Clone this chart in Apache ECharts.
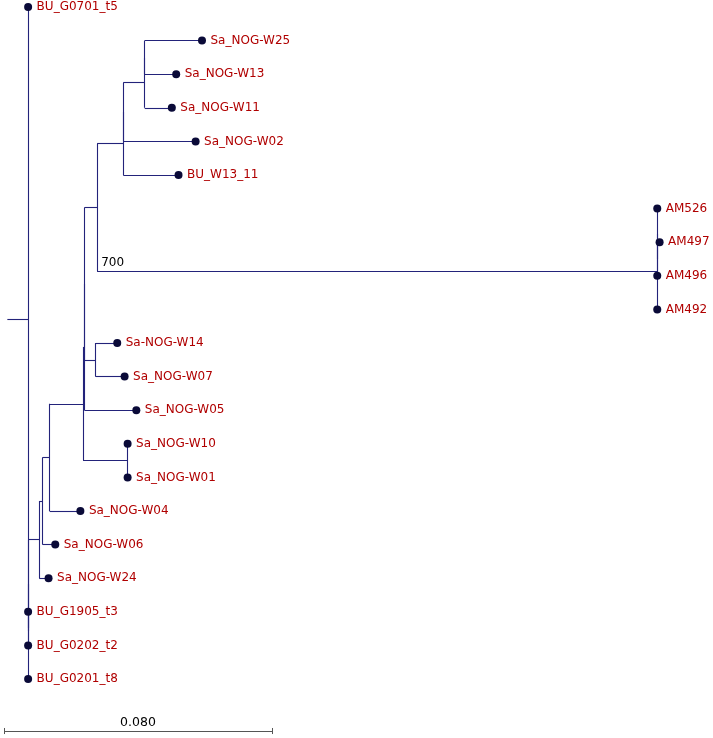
<!DOCTYPE html>
<html>
<head>
<meta charset="utf-8">
<script src="https://cdn.jsdelivr.net/npm/echarts@6/dist/echarts.min.js"></script>
<style>html,body{margin:0;padding:0;background:#fff;}#c{width:713px;height:738px;}</style>
</head>
<body>
<div id="c"></div>
<script>
// Tree topology (Newick) with branch lengths (substitutions/site) and one support label, built clade by clade
const cladeA = "((Sa_NOG-W25:0.0171,Sa_NOG-W13:0.0094):0,Sa_NOG-W11:0.0081)";
const cladeB = "((" + cladeA + ":0.0064,Sa_NOG-W02:0.0216):0,BU_W13_11:0.0165)";
const cladeAM = "((AM526:0,(AM497:0.0007,AM496:0):0):0,AM492:0)700";
const cladeC = "(" + cladeB + ":0.0078," + cladeAM + ":0.1672)";
const cladeH = "(" + cladeC + ":0.0038,(Sa-NOG-W14:0.0065,Sa_NOG-W07:0.0087):0.0033)";
const cladeI = "(" + cladeH + ":0,Sa_NOG-W05:0.0155)";
const cladeF = "(" + cladeI + ":0.0004,(Sa_NOG-W10:0,Sa_NOG-W01:0):0.0133)";
const cladeJ = "(" + cladeF + ":0.0100,Sa_NOG-W04:0.0092)";
const cladeK = "(" + cladeJ + ":0.0021,Sa_NOG-W06:0.0038)";
const cladeL = "(" + cladeK + ":0.0010,Sa_NOG-W24:0.0028)";
const cladeY = "(" + cladeL + ":0.0033,(BU_G1905_t3:0,BU_G0202_t2:0):0)";
const cladeX = "(" + cladeY + ":0,BU_G0201_t8:0)";
const newick = "(BU_G0701_t5:0," + cladeX + ":0):0.0062;";
const scaleBarLength = 0.080;
const scaleBarLabel = "0.080";

function parseNewick(s) {
  let i = 0;
  function readName() {
    let n = "";
    while (i < s.length && !"(),:;".includes(s[i])) n += s[i++];
    return n.trim();
  }
  function node() {
    const nd = { children: [], name: "", len: 0 };
    if (s[i] === "(") {
      i++;
      nd.children.push(node());
      while (s[i] === ",") { i++; nd.children.push(node()); }
      i++; // ')'
    }
    nd.name = readName();
    if (s[i] === ":") { i++; let num = ""; while (i < s.length && !"(),;".includes(s[i])) num += s[i++]; nd.len = parseFloat(num); }
    return nd;
  }
  return node();
}

const root = parseNewick(newick);
let leafIdx = 0;
const segs = [], leaves = [], support = [];
function layout(nd, px) {
  nd.x = px + nd.len;
  if (nd.children.length === 0) {
    nd.y = leafIdx++;
    leaves.push([nd.x, nd.y, nd.name]);
  } else {
    nd.children.forEach(c => layout(c, nd.x));
    const f = nd.children[0].y, l = nd.children[nd.children.length - 1].y;
    nd.y = (f + l) / 2;
    segs.push({ coords: [[nd.x, f], [nd.x, l]] });
    if (nd.name) support.push([px, nd.y, nd.name]);
  }
  segs.push({ coords: [[px, nd.y], [nd.x, nd.y]] });
}
layout(root, 0);

const sbY = 21.548, sbX0 = -0.001;
const tk = 0.09;
const sbSegs = [
  { coords: [[sbX0, sbY], [sbX0 + scaleBarLength, sbY]] },
  { coords: [[sbX0, sbY - tk], [sbX0, sbY + tk]] },
  { coords: [[sbX0 + scaleBarLength, sbY - tk], [sbX0 + scaleBarLength, sbY + tk]] }
];

const chart = echarts.init(document.getElementById('c'), null, { renderer: 'canvas' });
chart.setOption({
  animation: false,
  backgroundColor: '#ffffff',
  grid: { left: 4, right: 39, top: 7, bottom: 5.24 },
  xAxis: { type: 'value', min: -0.001, max: 0.199, show: false },
  yAxis: { type: 'value', min: 0, max: 21.6, inverse: true, show: false },
  series: [
    {
      type: 'lines', coordinateSystem: 'cartesian2d', clip: false, silent: true,
      lineStyle: { color: '#23237a', width: 1.1, opacity: 1 },
      data: segs
    },
    {
      type: 'lines', coordinateSystem: 'cartesian2d', clip: false, silent: true,
      lineStyle: { color: '#555555', width: 1, opacity: 1 },
      data: sbSegs
    },
    {
      type: 'scatter', clip: false, symbol: 'circle', symbolSize: 8,
      itemStyle: { color: '#0a0a38', opacity: 1 },
      label: {
        show: true, position: 'right', distance: 4.5,
        fontFamily: 'DejaVu Sans', fontSize: 12, color: '#b00000',
        formatter: p => p.data[2]
      },
      data: leaves
    },
    {
      type: 'scatter', clip: false, symbolSize: 0,
      itemStyle: { opacity: 1 },
      label: {
        show: true, position: 'right', distance: 4, offset: [0, -9],
        fontFamily: 'DejaVu Sans', fontSize: 12, color: '#000000',
        formatter: p => p.data[2]
      },
      data: support
    },
    {
      type: 'scatter', clip: false, symbolSize: 0,
      itemStyle: { opacity: 1 },
      label: {
        show: true, position: 'top', distance: 2,
        fontFamily: 'DejaVu Sans', fontSize: 12.5, color: '#000000',
        formatter: p => p.data[2]
      },
      data: [[sbX0 + scaleBarLength / 2, sbY, scaleBarLabel]]
    }
  ]
});
</script>
</body>
</html>
